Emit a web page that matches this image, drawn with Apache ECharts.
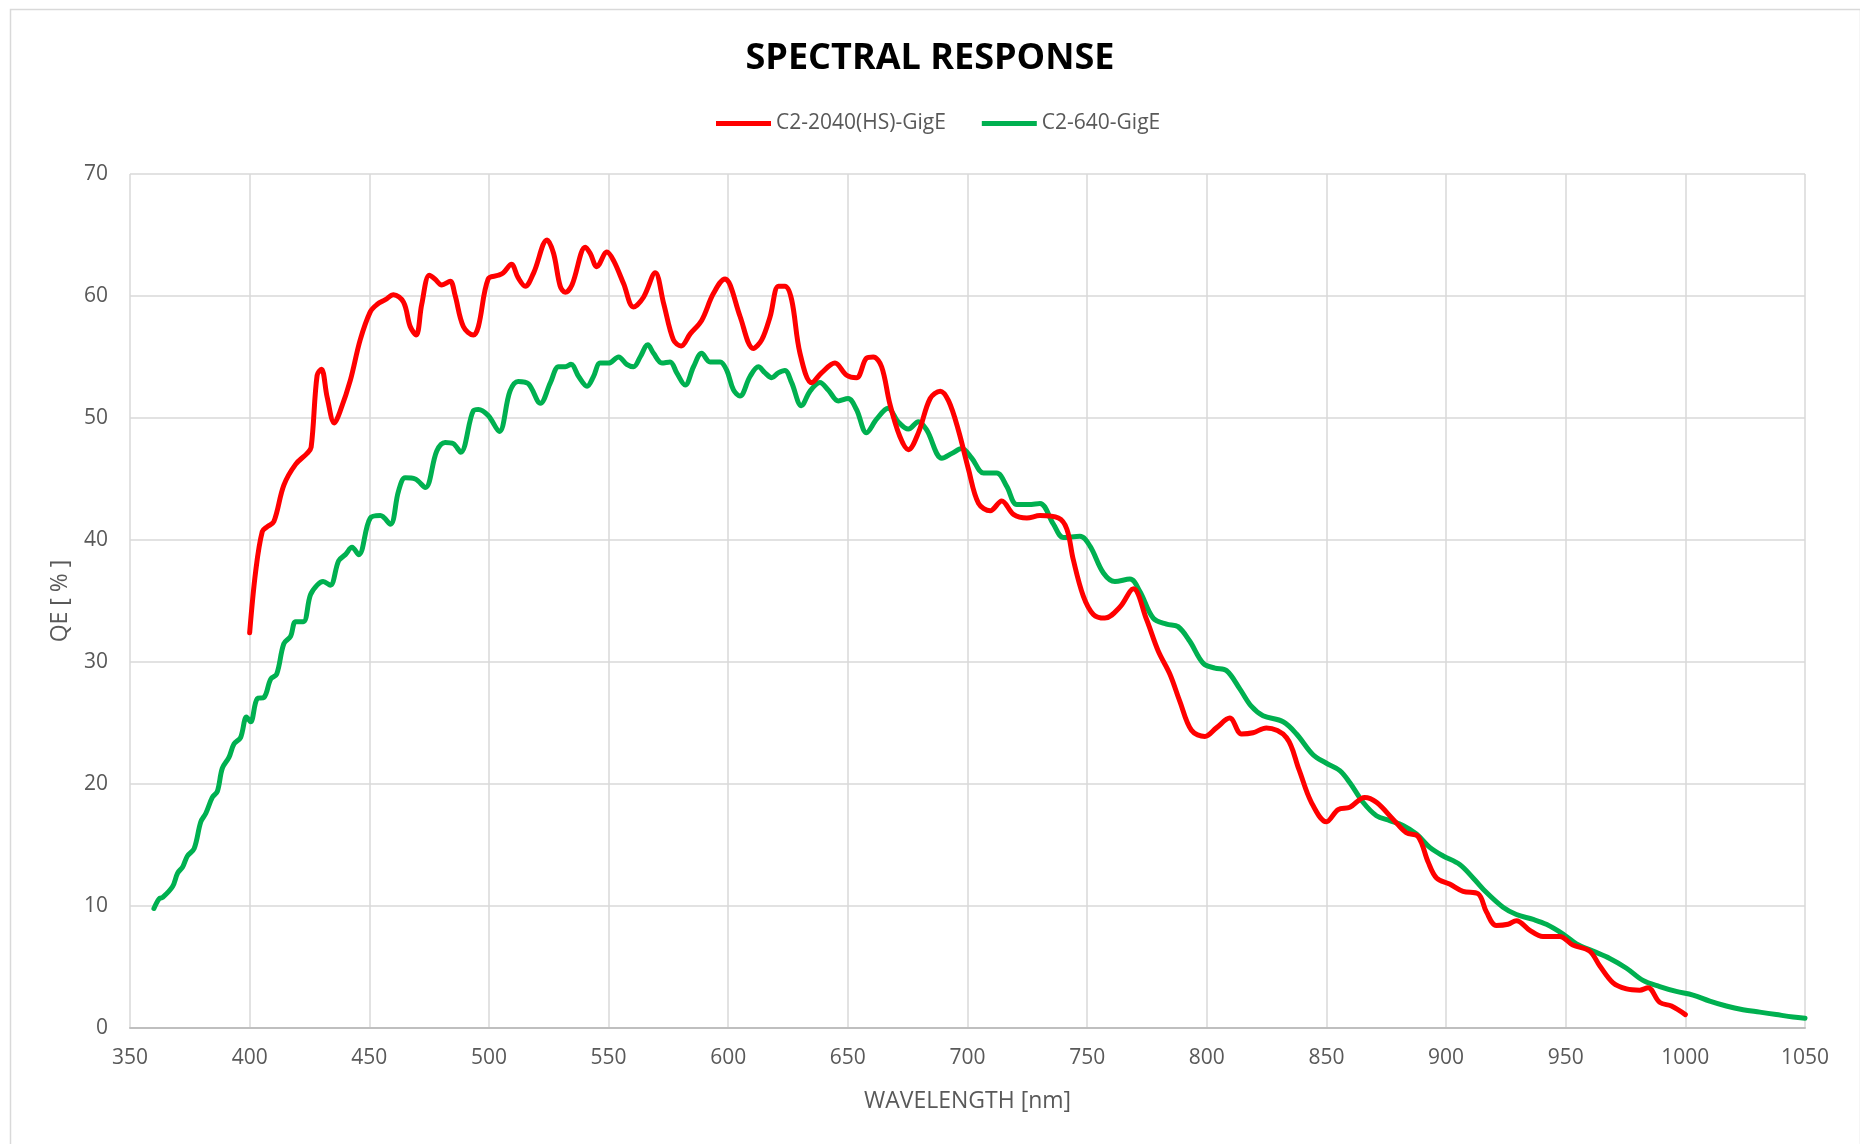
<!DOCTYPE html>
<html>
<head>
<meta charset="utf-8">
<script src="https://cdn.jsdelivr.net/npm/echarts@6/dist/echarts.min.js"></script>
<style>
html,body{margin:0;padding:0;background:#fff;}
#chart{width:1860px;height:1144px;}
</style>
</head>
<body>
<div id="chart"></div>
<script>
var titleText = 'SPECTRAL RESPONSE';
var seriesNames = ['C2-2040(HS)-GigE', 'C2-640-GigE'];
var xAxisName = 'WAVELENGTH [nm]';
var yAxisName = 'QE [ % ]';

var redWavelength = [400,402.5,405.3,407.4,410.1,414.3,419.2,424,425.7,428.2,430,432.4,435.4,437.9,442.1,446.2,450.4,453.2,456.7,460.1,464.3,467.1,469.6,471.9,475.1,477.4,480.3,483.8,485.8,489.3,493.5,495.6,499.7,503.9,506,509.4,512.2,515.2,518.7,524.3,527,529.8,531.9,534.7,540.3,542.3,545.1,549.3,552.1,556.3,560.4,564.6,569.5,573,577.1,580.3,584.1,588.9,593.8,598.7,600.8,605,610.5,614,617.5,621,623.7,626.5,630,634.9,639,644.6,649.5,653.6,657.8,660.6,664.1,667.5,671.7,675.3,679.5,684.4,688.6,692.1,696.2,700.4,704.6,709.5,714.3,719.2,724.8,730.3,738,741.5,744.2,748.4,752.6,757.4,763.7,769.3,774.8,779.7,784.6,788.7,793.6,799.2,804,809.6,814.5,819.3,824.9,833.3,838.5,843.7,850,854.9,859.8,866,870.9,877.9,883.4,888.3,892.5,896,901.5,907.1,913.4,916.9,921,925.9,929.4,935,940.5,947.5,953,960,964.2,969.8,975.4,980.9,984.4,989.3,994.2,1000];
var redQE = [32.4,37.4,40.7,41.1,41.5,44.5,46.2,47.1,47.6,53.5,54.0,51.7,49.6,50.6,53.1,56.4,58.7,59.3,59.7,60.1,59.5,57.5,56.8,59.3,61.7,61.4,60.9,61.2,60.1,57.5,56.8,57.5,61.4,61.7,61.9,62.6,61.5,60.8,61.9,64.6,63.5,60.8,60.3,60.9,64.0,63.5,62.4,63.6,62.9,61.0,59.1,59.9,61.9,59.4,56.4,55.9,56.9,58.0,60.2,61.4,60.9,58.3,55.7,56.4,58.3,60.8,60.8,59.7,55.3,52.9,53.7,54.5,53.5,53.3,54.9,55.0,54.2,51.2,48.5,47.4,48.8,51.6,52.2,51.4,49.0,45.8,43.0,42.4,43.2,42.1,41.8,42.0,41.8,40.9,38.4,35.4,33.9,33.6,34.5,36.0,33.5,30.9,29.0,26.8,24.4,23.9,24.6,25.4,24.1,24.2,24.6,23.8,21.2,18.5,16.9,17.9,18.1,18.9,18.5,17.1,16.0,15.7,13.6,12.3,11.8,11.2,11.0,9.5,8.4,8.5,8.8,8.0,7.5,7.5,6.8,6.3,5.1,3.7,3.2,3.1,3.3,2.1,1.8,1.1];

var greenWavelength = [360,362.2,363.6,367.8,369.9,372,374,376.8,379.6,381.7,384.4,386.5,388.6,391.4,393.5,396.2,398.7,400.4,403.2,406,408.8,411.3,414.3,417.1,419.2,422.4,425.4,428.2,430.7,433.7,437.2,440,442.8,445.6,450.4,454.6,458.8,462.2,465,469.2,473.4,478.2,481.7,485.1,488.2,493.5,495.6,499.7,504.3,508.8,512.2,516.5,521.5,525.7,529.1,531.9,534.3,537.5,541,543.7,546.5,550,554.2,557.6,560.4,563.2,566.4,568.8,572.3,575.7,578.5,582,585.5,588.9,592.4,596.6,599.4,602.2,604.9,609.1,612.6,615.4,618.2,620.9,623.7,626.5,630.6,634.2,638.3,641.8,646,650.1,653.6,657.8,662,666.8,671,675.3,679.5,683,689.3,693.5,697.6,701.8,706.7,712.2,716.4,720.6,725.5,730.3,735.9,740.1,747,751.2,756.8,761.6,767.9,772,777.6,783.2,788,792.9,798.5,803.4,808.2,813.8,818.5,823.5,831.9,837.5,844.4,850,855.6,859.8,865.3,870.9,876.5,882,887.6,893.2,898.8,905.7,911.3,916.9,923.8,929.4,936.4,941.9,948.9,954.5,961.4,968.4,975.4,982.3,989.3,996.2,1003.2,1010.2,1017.1,1024.1,1031.1,1038,1045,1050];
var greenQE = [9.8,10.6,10.7,11.6,12.7,13.2,14.1,14.7,16.9,17.6,18.9,19.4,21.3,22.2,23.3,23.8,25.5,25.1,27.0,27.1,28.6,29.0,31.5,32.1,33.3,33.3,35.5,36.3,36.6,36.3,38.3,38.8,39.4,38.8,41.8,42.0,41.3,44.0,45.1,45.0,44.3,47.3,48.0,47.9,47.2,50.6,50.7,50.2,48.9,52.2,53.0,52.8,51.2,52.9,54.2,54.2,54.4,53.4,52.6,53.4,54.5,54.5,55.0,54.4,54.2,55.0,56.0,55.3,54.5,54.6,53.7,52.7,54.2,55.3,54.6,54.6,53.9,52.3,51.8,53.4,54.2,53.7,53.3,53.7,53.9,52.9,51.0,52.2,52.9,52.3,51.4,51.6,50.7,48.8,49.9,50.8,49.7,49.1,49.7,49.0,46.7,47.1,47.5,46.7,45.5,45.5,44.4,42.9,42.9,43.0,41.3,40.2,40.3,39.5,37.3,36.6,36.8,35.8,33.6,33.1,32.9,31.7,29.9,29.5,29.3,27.8,26.4,25.6,25.1,24.1,22.4,21.7,21.1,20.1,18.5,17.4,17.0,16.6,15.9,14.8,14.1,13.4,12.3,11.1,9.9,9.3,8.9,8.5,7.7,6.9,6.3,5.7,4.9,3.9,3.4,3.0,2.7,2.2,1.8,1.5,1.3,1.1,0.9,0.8];

var xMin = 350, xMax = 1050, xStep = 50;
var yMin = 0, yMax = 70, yStep = 10;

function pairs(xs, ys) { return xs.map(function (x, i) { return [x, ys[i]]; }); }

var FONT = "'Open Sans', Lato, sans-serif";
var chart = echarts.init(document.getElementById('chart'), null, {renderer: 'canvas'});
chart.setOption({
  backgroundColor: '#ffffff',
  animation: false,
  graphic: [{
    type: 'rect', left: 8, top: 7, silent: true,
    shape: {width: 1850, height: 1140},
    style: {fill: 'none', stroke: '#D9D9D9', lineWidth: 1.5}
  }],
  title: {
    text: titleText, left: 'center', top: 36,
    textStyle: {fontFamily: FONT, fontSize: 36, fontWeight: 'bold', color: '#000000'}
  },
  legend: {
    top: 108, left: 711, itemGap: 36, itemWidth: 55, itemHeight: 5,
    icon: 'rect',
    textStyle: {fontFamily: FONT, fontSize: 21, color: '#595959'},
    data: seriesNames
  },
  grid: {left: 130, right: 55, top: 174, bottom: 116, containLabel: false},
  xAxis: {
    type: 'value', min: xMin, max: xMax, interval: xStep,
    name: xAxisName, nameLocation: 'middle', nameGap: 62,
    nameTextStyle: {fontFamily: FONT, fontSize: 23, color: '#595959'},
    axisLine: {show: true, lineStyle: {color: '#BFBFBF', width: 2}},
    axisTick: {show: false},
    axisLabel: {fontFamily: FONT, fontSize: 21, color: '#595959', margin: 20,
      formatter: function (v) { return String(v); }},
    splitLine: {show: true, lineStyle: {color: '#D9D9D9', width: 1.5}}
  },
  yAxis: {
    type: 'value', min: yMin, max: yMax, interval: yStep,
    name: yAxisName, nameLocation: 'middle', nameGap: 58, nameRotate: 90,
    nameTextStyle: {fontFamily: FONT, fontSize: 23, color: '#595959'},
    axisLine: {show: false},
    axisTick: {show: false},
    axisLabel: {fontFamily: FONT, fontSize: 21, color: '#595959', margin: 22},
    splitLine: {show: true, lineStyle: {color: '#D9D9D9', width: 1.5}}
  },
  series: [{
    name: seriesNames[0], type: 'line', data: pairs(redWavelength, redQE),
    showSymbol: false, smooth: 0.35, color: '#FF0000',
    lineStyle: {width: 5, color: '#FF0000', cap: 'round', join: 'round'},
    itemStyle: {color: '#FF0000'}, z: 3
  }, {
    name: seriesNames[1], type: 'line', data: pairs(greenWavelength, greenQE),
    showSymbol: false, smooth: 0.35, color: '#00B050',
    lineStyle: {width: 5, color: '#00B050', cap: 'round', join: 'round'},
    itemStyle: {color: '#00B050'}, z: 2
  }]
});
</script>
</body>
</html>
